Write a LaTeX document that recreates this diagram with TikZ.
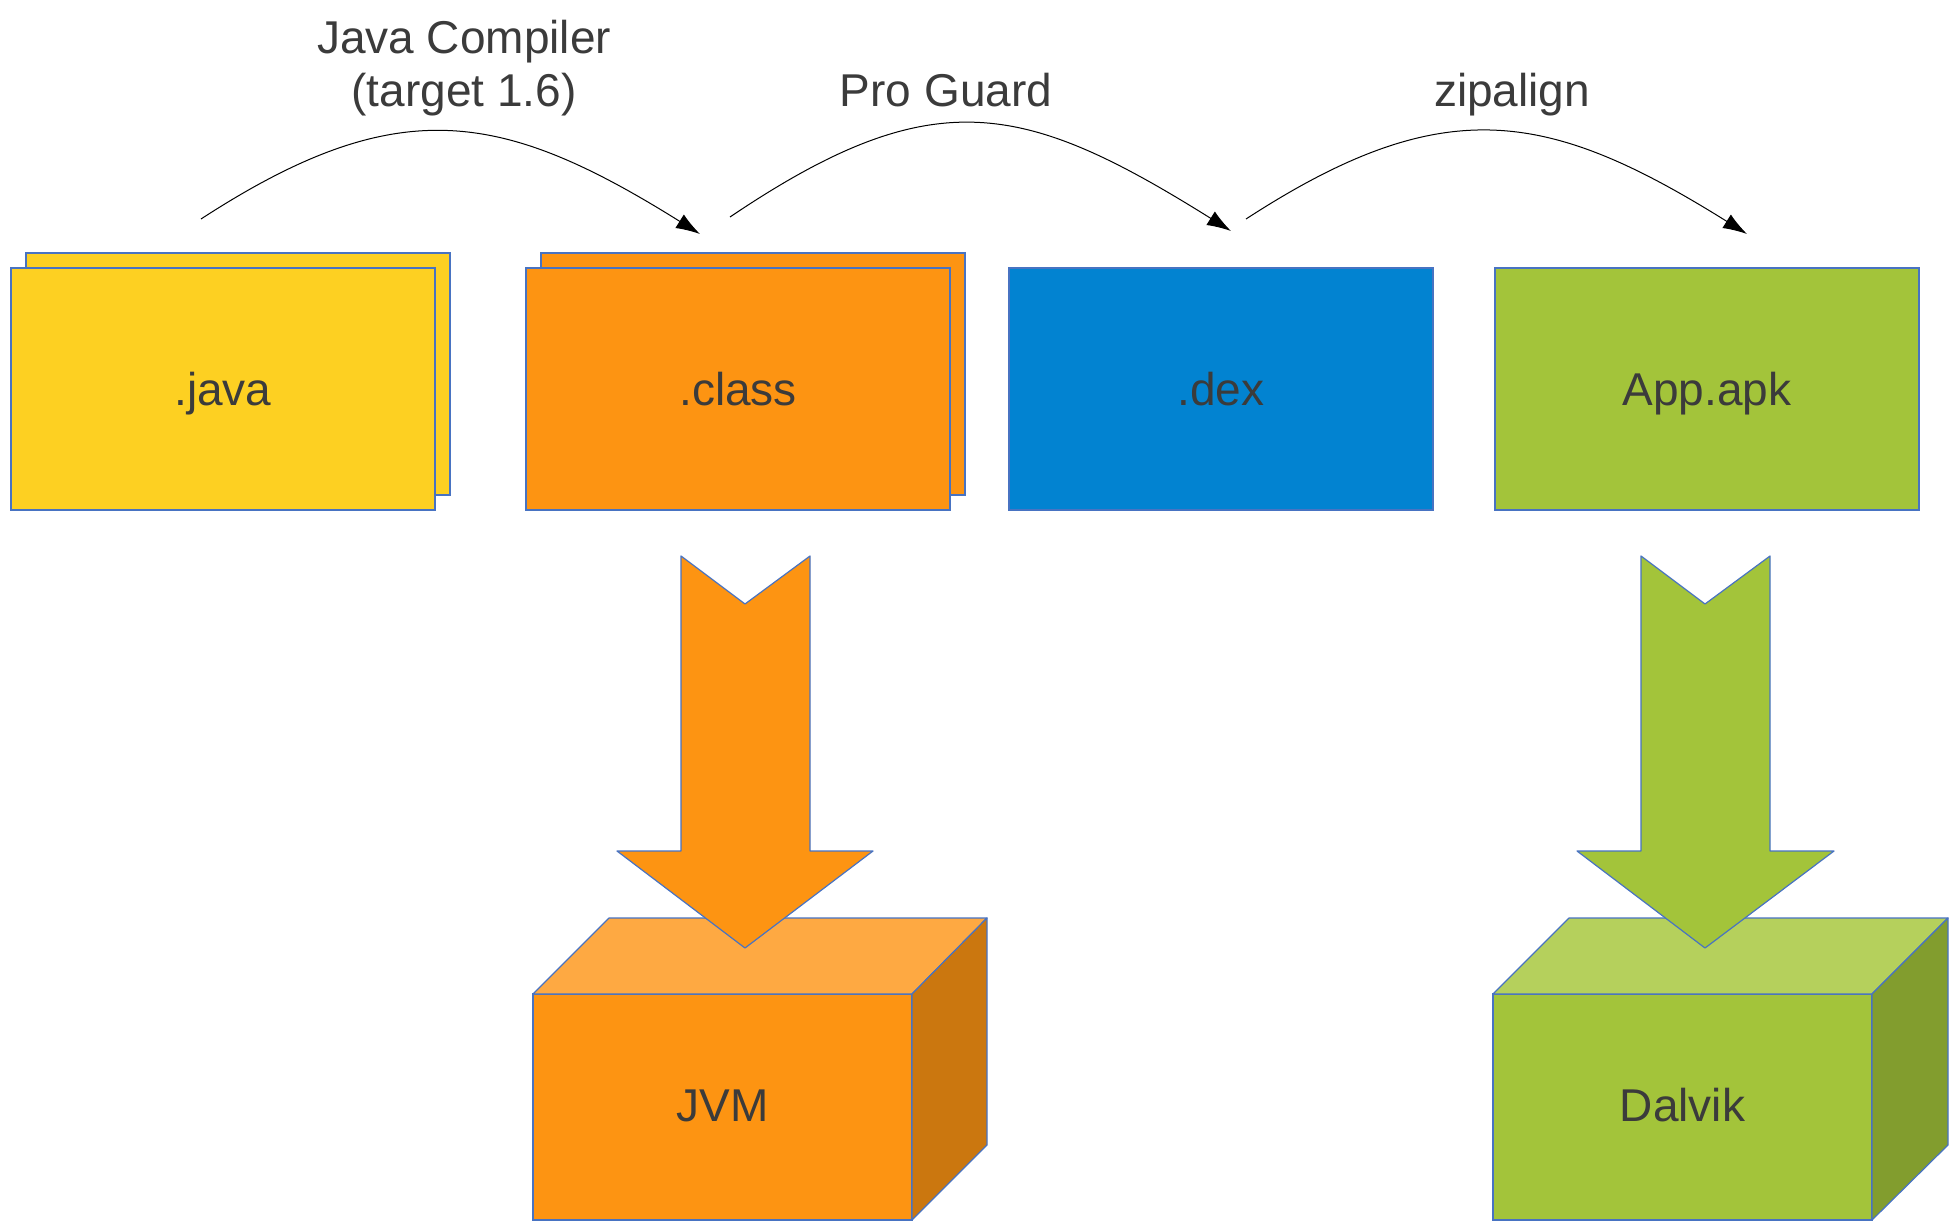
\documentclass[tikz,border=0pt]{standalone}
\usepackage{fontspec}
\setmainfont{Liberation Sans}
\usetikzlibrary{arrows.meta}
\definecolor{yellowc}{RGB}{253,208,34}
\definecolor{orangec}{RGB}{253,148,18}
\definecolor{bluec}{RGB}{2,131,209}
\definecolor{greenc}{RGB}{163,196,58}
\definecolor{orangetop}{RGB}{254,169,66}
\definecolor{orangeside}{RGB}{203,119,15}
\definecolor{greentop}{RGB}{181,208,92}
\definecolor{greenside}{RGB}{130,157,46}
\definecolor{outlinec}{RGB}{72,115,194}
\definecolor{textc}{RGB}{59,59,59}
\tikzset{
  filebox/.style={draw=outlinec, line width=1.2pt, inner sep=0pt, outer sep=0pt,
    minimum width=424pt, minimum height=242pt, text=textc,
    text height=40pt, text depth=8pt,
    font=\fontsize{46}{54}\selectfont},
  cubefront/.style={draw=outlinec, line width=1.2pt, inner sep=0pt, outer sep=0pt,
    minimum width=379pt, minimum height=226pt, text=textc,
    text height=38pt, text depth=10pt,
    font=\fontsize{46}{54}\selectfont},
  facestyle/.style={draw=outlinec, line width=1.2pt, line join=round},
  flow/.style={draw=black, line width=1pt, -{Latex[length=24pt,width=16pt]}},
  steplabel/.style={text=textc, inner sep=0pt, font=\fontsize{46}{53}\selectfont}
}
\begin{document}
\begin{tikzpicture}[x=1pt,y=-1pt]
\useasboundingbox (0,0) rectangle (1954,1223);
\fill[white] (0,0) rectangle (1954,1223);

% file boxes
\node[filebox, fill=yellowc] (javaback) at (238,374) {};
\node[filebox, fill=yellowc] (java) at (223,389) {.java};
\node[filebox, fill=orangec] (classback) at (753,374) {};
\node[filebox, fill=orangec] (class) at (738,389) {.class};
\node[filebox, fill=bluec] (dex) at (1221,389) {.dex};
\node[filebox, fill=greenc] (apk) at (1707,389) {App.apk};

% curved step arrows
\coordinate (c1s) at (201,219);
\coordinate (c1e) at (700,234);
\coordinate (c2s) at (730,217);
\coordinate (c2e) at (1231,231);
\coordinate (c3s) at (1246,219);
\coordinate (c3e) at (1747,234);
\draw[flow] (c1s) to[out=33,in=148,looseness=1.2] (c1e);
\draw[flow] (c2s) to[out=34,in=148,looseness=1.25] (c2e);
\draw[flow] (c3s) to[out=33,in=148,looseness=1.2] (c3e);

\node[steplabel, align=center, anchor=north] (lbl1) at (464,20) {Java Compiler\\(target 1.6)};
\node[steplabel, anchor=base] (lbl2) at (946,106) {Pro Guard};
\node[steplabel, anchor=base] (lbl3) at (1512,106) {zipalign};

% JVM cube
\node[cubefront, fill=orangec] (jvm) at (722.5,1107) {JVM};
\draw[facestyle, fill=orangetop] (jvm.north west) -- (609,918) -- (987,918) -- (jvm.north east) -- cycle;
\draw[facestyle, fill=orangeside] (jvm.north east) -- (987,918) -- (987,1145) -- (jvm.south east) -- cycle;

% Dalvik cube
\node[cubefront, fill=greenc] (dalvik) at (1682.5,1107) {Dalvik};
\draw[facestyle, fill=greentop] (dalvik.north west) -- (1569,918) -- (1948,918) -- (dalvik.north east) -- cycle;
\draw[facestyle, fill=greenside] (dalvik.north east) -- (1948,918) -- (1948,1145) -- (dalvik.south east) -- cycle;

% block arrows
\draw[facestyle, fill=orangec] (681,556) -- (745,604) -- (810,556) -- (810,851) -- (873,851) -- (745,948) -- (617,851) -- (681,851) -- cycle;
\draw[facestyle, fill=greenc] (1641,556) -- (1705,604) -- (1770,556) -- (1770,851) -- (1834,851) -- (1705,948) -- (1577,851) -- (1641,851) -- cycle;
\end{tikzpicture}
\end{document}
